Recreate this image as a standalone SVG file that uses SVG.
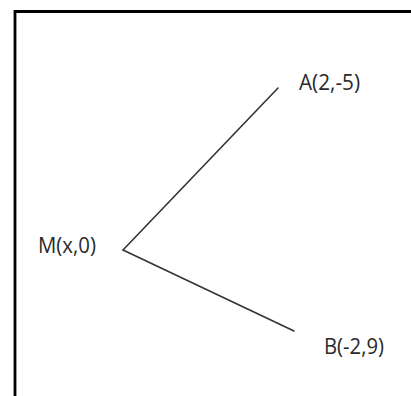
<svg xmlns="http://www.w3.org/2000/svg" width="411" height="396" viewBox="0 0 411 396">
<style>
.frame{fill:none;stroke:#000;stroke-width:2.8}
.seg{fill:none;stroke:#333;stroke-width:1.6;stroke-linecap:round}
.lbl{font-family:"Open Sans","Noto Sans","Liberation Sans",sans-serif;font-size:22px;fill:#2a2a2a}
</style>
<rect width="411" height="396" fill="#fff"/>
<path class="frame" d="M15,396 V11.5 H411"/>
<g id="connectors">
<line class="seg" x1="123" y1="250" x2="278" y2="88"/>
<line class="seg" x1="123" y1="250" x2="294" y2="331"/>
</g>
<g id="M"><text class="lbl" x="38" y="253" textLength="58" lengthAdjust="spacingAndGlyphs">M(x,0)</text></g>
<g id="A"><text class="lbl" x="299" y="90" textLength="61" lengthAdjust="spacingAndGlyphs">A(2,-5)</text></g>
<g id="B"><text class="lbl" x="324" y="354" textLength="60" lengthAdjust="spacingAndGlyphs">B(-2,9)</text></g>
</svg>
